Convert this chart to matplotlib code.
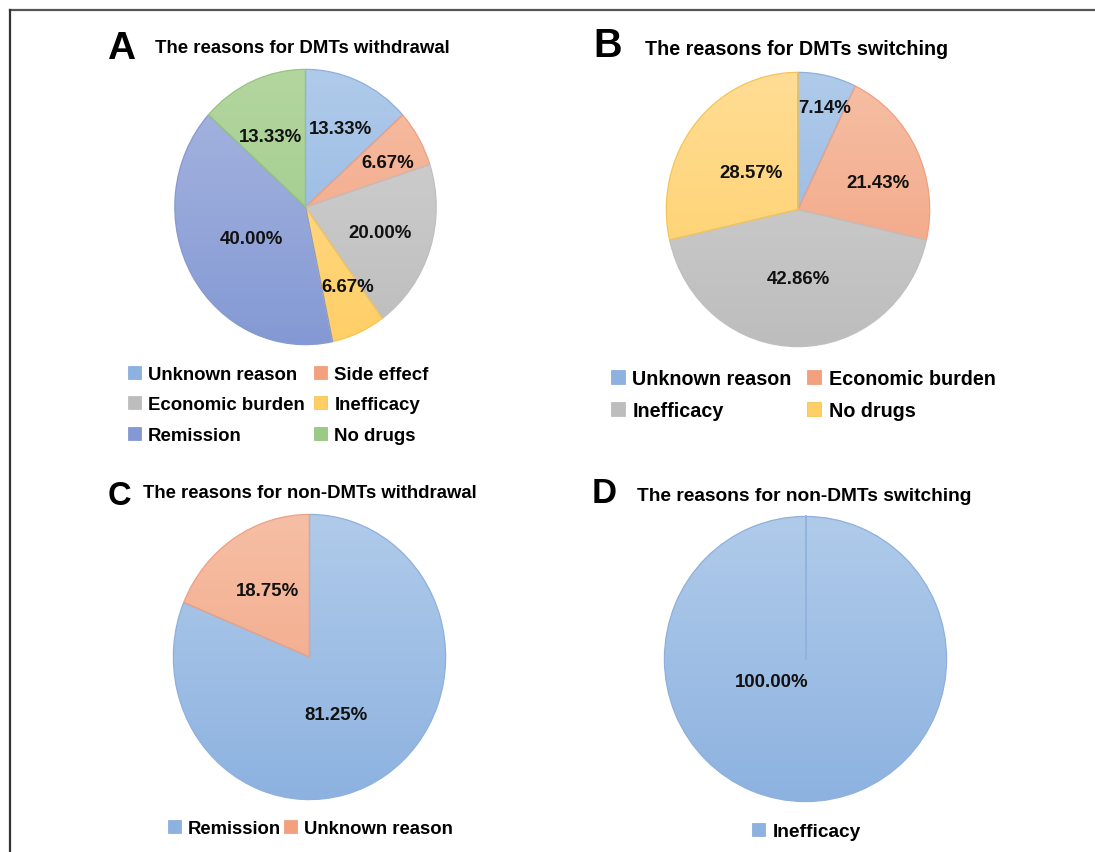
import numpy as np
import matplotlib.pyplot as plt
from matplotlib.colors import LinearSegmentedColormap
from matplotlib.patches import Patch
from matplotlib.lines import Line2D

plt.rcParams['font.family'] = ['Liberation Sans', 'DejaVu Sans']
plt.rcParams['font.weight'] = 'bold'

W, H = 1095, 853

# ---- data ----------------------------------------------------------------
a_labels = ["Unknown reason", "Side effecf", "Economic burden", "Inefficacy", "Remission", "No drugs"]
a_values = [13.33, 6.67, 20.00, 6.67, 40.00, 13.33]

b_labels = ["Unknown reason", "Economic burden", "Inefficacy", "No drugs"]
b_values = [7.14, 21.43, 42.86, 28.57]

c_labels = ["Remission", "Unknown reason"]
c_values = [81.25, 18.75]

d_labels = ["Inefficacy"]
d_values = [100.00]

# office-style palette: (top of gradient, bottom of gradient, outline)
palette = [
    ("#B0CBEA", "#8DB2E0", "#8EB0DC"),   # blue
    ("#F6BFA5", "#F2A07D", "#EFA082"),   # orange
    ("#D3D3D3", "#BDBDBD", "#BFBFBF"),   # gray
    ("#FFDD95", "#FFCF66", "#F6C455"),   # yellow
    ("#A8B6E0", "#8499D4", "#8699D0"),   # slate blue
    ("#B3D69F", "#9BC986", "#96C47F"),   # green
]

ramp = np.linspace(0, 1, 256).reshape(-1, 1)


def px(x, y):
    return x / W, 1 - y / H


def draw_panel(fig, values, labels, cx, cy, rx, ry, letter, title, fs,
               letter_xy, letter_fs, title_xy, label_r, label_turn,
               leg_xy, leg_ncol, leg_colsp, leg_ls=0.7):
    x0, y1 = px(cx - rx, cy - ry)
    ax = fig.add_axes([x0, y1 - 2 * ry / H, 2 * rx / W, 2 * ry / H])
    wedges, _ = ax.pie(values, startangle=90, counterclock=False, radius=1,
                       colors=[p[1] for p in palette[:len(values)]],
                       wedgeprops=dict(linewidth=0.9))
    for i, w in enumerate(wedges):
        top, bot, edge = palette[i]
        cmap = LinearSegmentedColormap.from_list("g", [top, bot])
        im = ax.imshow(ramp, cmap=cmap, extent=(-1, 1, -1, 1), aspect='auto',
                       interpolation='bilinear', zorder=0)
        im.set_clip_path(w)
        w.set_facecolor('none')
        w.set_edgecolor(edge)
        # percentage label
        mid = np.deg2rad((w.theta1 + w.theta2) / 2 + label_turn[i])
        ax.text(label_r[i] * np.cos(mid), label_r[i] * np.sin(mid),
                f"{values[i]:.2f}%", ha='center', va='center',
                fontsize=13.4, fontweight='bold', color='#111111', zorder=5)
    if len(values) == 1:
        # a single full slice still shows its start edge
        a0 = np.deg2rad(90)
        ax.plot([0, np.cos(a0)], [0, np.sin(a0)], color=palette[0][2],
                lw=1.2, zorder=2)
    ax.set_xlim(-1.01, 1.01)
    ax.set_ylim(-1.01, 1.01)
    ax.set_aspect('auto')
    ax.axis('off')

    fig.text(*px(*letter_xy), letter, fontsize=letter_fs, fontweight='bold',
             ha='left', va='baseline')
    fig.text(*px(*title_xy), title, fontsize=fs, fontweight='bold',
             ha='left', va='baseline')

    handles = [Patch(facecolor=palette[i][1], edgecolor=palette[i][2], lw=0.6)
               for i in range(len(values))]
    order = list(range(len(values)))
    if leg_ncol == 2 and len(values) > 2:
        order = order[0::2] + order[1::2]
    fig.legend([handles[i] for i in order], [labels[i] for i in order],
               loc='upper left', bbox_to_anchor=px(*leg_xy), ncol=leg_ncol,
               frameon=False, fontsize=fs, handlelength=0.7, handleheight=0.7,
               handletextpad=0.38, columnspacing=leg_colsp, labelspacing=leg_ls,
               borderpad=0, borderaxespad=0)


fig = plt.figure(figsize=(W / 100, H / 100), dpi=100)

# frame lines at top and left
fig.add_artist(Line2D([10 / W, 1], [1 - 11 / H, 1 - 11 / H], color='#555555', lw=1.6))
fig.add_artist(Line2D([10 / W, 10 / W], [1 - 11 / H, 0], color='#333333', lw=1.6))

draw_panel(fig, a_values, a_labels, 305.5, 208, 132, 139, "A",
           "The reasons for DMTs withdrawal", 13.4, (107, 59), 28, (155, 53),
           [0.63, 0.71, 0.60, 0.66, 0.47, 0.58], [-1, -3, 0, 5, -1, 3.5],
           (128, 367), 2, 0.5, 0.72)

draw_panel(fig, b_values, b_labels, 798, 210.5, 133, 138.5, "B",
           "The reasons for DMTs switching", 14.2, (593, 57), 28.5, (645, 55),
           [0.77, 0.64, 0.50, 0.45], [-2.4, -8, 0, 1.6],
           (611, 370), 2, 0.8, 0.65)

draw_panel(fig, c_values, c_labels, 309.5, 658, 137.5, 144, "C",
           "The reasons for non-DMTs withdrawal", 13.3, (108, 505), 23.5, (143, 498),
           [0.45, 0.56], [-7.6, 0],
           (168, 821), 2, 0.15)

draw_panel(fig, d_values, d_labels, 805.5, 660, 142.5, 144, "D",
           "The reasons for non-DMTs switching", 13.8, (592, 503), 25, (637, 501),
           [0.285], [-56],
           (752, 824), 1, 0.5)

fig.savefig("out.png", dpi=100)
